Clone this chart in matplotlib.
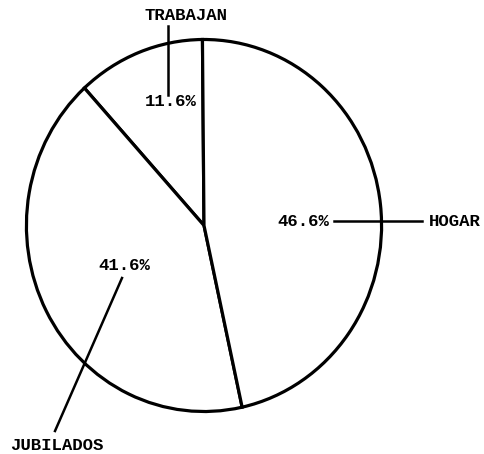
import matplotlib
matplotlib.use("Agg")
import matplotlib.pyplot as plt

labels = ['TRABAJAN', 'JUBILADOS', 'HOGAR']
values = [11.6, 41.6, 46.6]

W, H = 484, 454

def py(y):  # pixel y (top-down) -> data y
    return H - y

fig = plt.figure(figsize=(W / 100, H / 100), dpi=100)

# the scanned pie is slightly taller than wide: own axes over its bounding box
left, right, top, bottom = 25, 383, 38, 413
pax = fig.add_axes([left / W, (H - bottom) / H, (right - left) / W, (bottom - top) / H])
pax.pie(values, startangle=90.5, counterclock=True, radius=1,
        colors=['white'] * 3, wedgeprops=dict(edgecolor='black', linewidth=2.3),
        normalize=True)
pax.set_aspect('auto')
pax.set_xlim(-1.008, 1.008)
pax.set_ylim(-1.008, 1.008)
pax.axis('off')

ax = fig.add_axes([0, 0, 1, 1])
ax.set_xlim(0, W)
ax.set_ylim(0, H)
ax.axis('off')

font = dict(family=['Liberation Mono', 'DejaVu Sans Mono'], fontweight='bold', fontsize=12.5,
            color='black')
pct = ['%.1f%%' % v for v in values]

# TRABAJAN
ax.text(186, py(16), labels[0], ha='center', va='center', **font)
ax.plot([168, 168], [py(26), py(95)], color='black', lw=1.8)
ax.text(171, py(102), pct[0], ha='center', va='center', **font)

# JUBILADOS
ax.text(124, py(266), pct[1], ha='center', va='center', **font)
ax.plot([122, 55], [py(278), py(431)], color='black', lw=1.8)
ax.text(57, py(446), labels[1], ha='center', va='center', **font)

# HOGAR
ax.text(303, py(221), pct[2], ha='center', va='center', **font)
ax.plot([334, 422], [py(221), py(221)], color='black', lw=1.8)
ax.text(455, py(221), labels[2], ha='center', va='center', **font)

fig.savefig('out.png', dpi=100)
